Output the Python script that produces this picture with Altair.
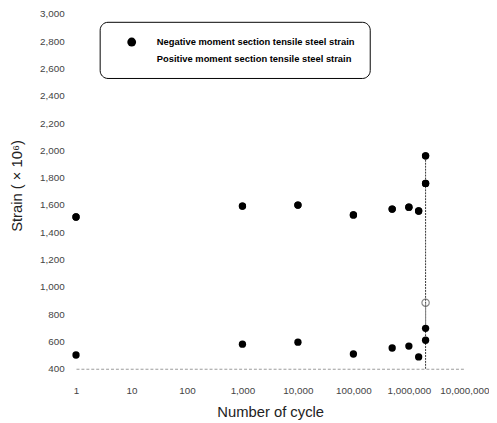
import altair as alt
import pandas as pd

# Data
neg_cycles = [1, 1000, 10000, 100000, 500000, 1000000, 1500000, 2000000, 2000000]
neg_strain = [1512, 1592, 1599, 1527, 1570, 1584, 1556, 1758, 1960]

pos_cycles = [1, 1000, 10000, 100000, 500000, 1000000, 1500000, 2000000, 2000000]
pos_strain = [501, 580, 595, 508, 552, 566, 487, 609, 696]

open_cycles = [2000000]
open_strain = [884]

rule_cycles = [2000000, 2000000]
rule_y1 = [400, 696]
rule_y2 = [1960, 884]
rule_kind = ["dash", "solid"]

x_ticks = [1, 10, 100, 1000, 10000, 100000, 1000000, 10000000]
y_ticks = [400, 600, 800, 1000, 1200, 1400, 1600, 1800, 2000, 2200, 2400, 2600, 2800, 3000]

NEG = "Negative moment section tensile steel strain"
POS = "Positive moment section tensile steel strain"

pts = pd.DataFrame({
    "cycle": neg_cycles + pos_cycles,
    "strain": neg_strain + pos_strain,
    "series": [NEG] * len(neg_cycles) + [POS] * len(pos_cycles),
})
opn = pd.DataFrame({"cycle": open_cycles, "strain": open_strain})
rules = pd.DataFrame({"cycle": rule_cycles, "strain": rule_y1, "strain2": rule_y2, "kind": rule_kind})

FONT = "Liberation Sans"

xaxis = alt.Axis(
    title="Number of cycle", values=x_ticks, format=",d", grid=False, ticks=False,
    domainColor="#999999", domainDash=[3, 2], domainWidth=1,
    labelFont=FONT, labelFontSize=10, labelColor="#444444", labelPadding=17,
    labelOverlap=False,
    titleFont=FONT, titleFontSize=15, titleFontWeight="normal", titleColor="#222222",
    titleBaseline="middle", titleY=43, titleX=197, labelFlush=False,
)
yaxis = alt.Axis(
    title="Strain ( \u00d7 10\u2076)", values=y_ticks, format=",d", grid=False, ticks=False,
    domain=False, labelFont=FONT, labelFontSize=10, labelColor="#444444", labelPadding=12,
    labelOverlap=False, labelFlush=False,
    titleFont=FONT, titleFontSize=15, titleFontWeight="normal", titleColor="#222222",
    titleAngle=270, titleBaseline="middle", titleAlign="center", titleX=-60, titleY=174,
)
xscale = alt.Scale(type="log", domain=[1, 10000000], nice=False)
yscale = alt.Scale(domain=[400, 3000], nice=False)

def X():
    return alt.X("cycle:Q", scale=xscale, axis=xaxis)

def Y():
    return alt.Y("strain:Q", scale=yscale, axis=yaxis)

legend_layer = alt.Chart(pts).mark_point(filled=True, size=55, opacity=1).encode(
    x=X(), y=Y(),
    color=alt.Color(
        "series:N",
        scale=alt.Scale(domain=[NEG, POS], range=["black", "white"]),
        legend=alt.Legend(
            title=None, orient="none", legendX=24, legendY=8,
            strokeColor="black", cornerRadius=8, padding=15,
            symbolOffset=12, labelOffset=20, rowPadding=7, symbolSize=80,
            labelFont=FONT, labelFontSize=9.5, labelFontWeight="bold", labelColor="black",
            labelLimit=400,
        ),
    ),
)

black_pts = alt.Chart(pts).mark_point(filled=True, size=55, color="black", opacity=1).encode(
    x=X(), y=Y()
)

open_pt = alt.Chart(opn).mark_point(filled=False, size=55, color="#555555", strokeWidth=1.2).encode(
    x=X(), y=Y()
)

dash_rule = alt.Chart(rules[rules.kind == "dash"]).mark_rule(
    color="#333333", strokeDash=[2, 1], strokeWidth=1
).encode(x=X(), y=Y(), y2="strain2:Q")

solid_rule = alt.Chart(rules[rules.kind == "solid"]).mark_rule(
    color="#888888", strokeWidth=1
).encode(x=X(), y=Y(), y2="strain2:Q")

chart = alt.layer(legend_layer, dash_rule, solid_rule, black_pts, open_pt).properties(
    width=394, height=360,
    autosize=alt.AutoSizeParams(type="none"),
    padding={"left": 69, "top": 3, "right": 25, "bottom": 50},
    background="white",
).configure_view(stroke=None, strokeWidth=0).configure_axisY(labelOverlap=False)

chart.save("out.html", embed_options={"renderer": "svg", "actions": False})
